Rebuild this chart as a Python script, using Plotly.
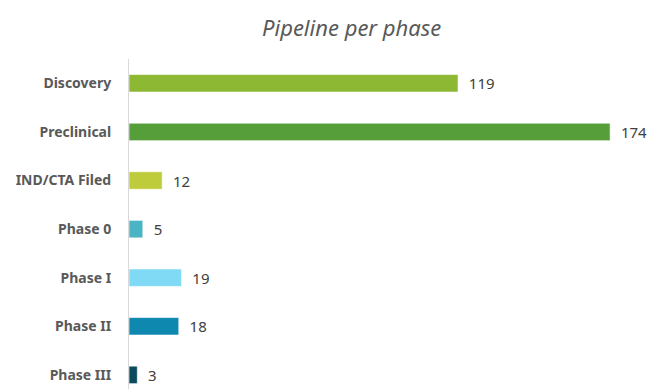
import plotly.graph_objects as go

categories = ["Discovery", "Preclinical", "IND/CTA Filed", "Phase 0", "Phase I", "Phase II", "Phase III"]
values = [119, 174, 12, 5, 19, 18, 3]
colors = ["#8DB833", "#559E3A", "#BECB3A", "#4AB4C4", "#80DAF5", "#0F88B0", "#0C4A5E"]

FONT = "Noto Sans, Open Sans, sans-serif"

fig = go.Figure(go.Bar(
    y=categories, x=values, orientation="h",
    marker=dict(color=colors, line=dict(color="rgba(255,255,255,0.6)", width=1)),
    width=0.36,
    texttemplate="  %{x}", textposition="outside", constraintext="none",
    textfont=dict(family=FONT, size=15, color="#404040"),
    cliponaxis=False,
))

fig.update_layout(
    width=648, height=389,
    margin=dict(l=129, r=0, t=59, b=0),
    plot_bgcolor="white", paper_bgcolor="white",
    showlegend=False,
    annotations=[dict(text="<i>Pipeline per phase</i>",
                      x=(351 - 129) / (648 - 129), y=1 + (59 - 27) / 330,
                      xref="paper", yref="paper", xanchor="center", yanchor="middle",
                      showarrow=False,
                      font=dict(family=FONT, size=22, color="#595959"))],
)
fig.update_xaxes(range=[0, (648 - 129) / 2.765], visible=False, showgrid=False)
fig.update_yaxes(range=[6.29, -0.5], showgrid=False, showline=True, linecolor="#D9D9D9", linewidth=1,
                 ticks="", ticklabelstandoff=14,
                 tickfont=dict(family=FONT, size=14, color="#595959", weight="bold"))

fig.write_html("out.html")
